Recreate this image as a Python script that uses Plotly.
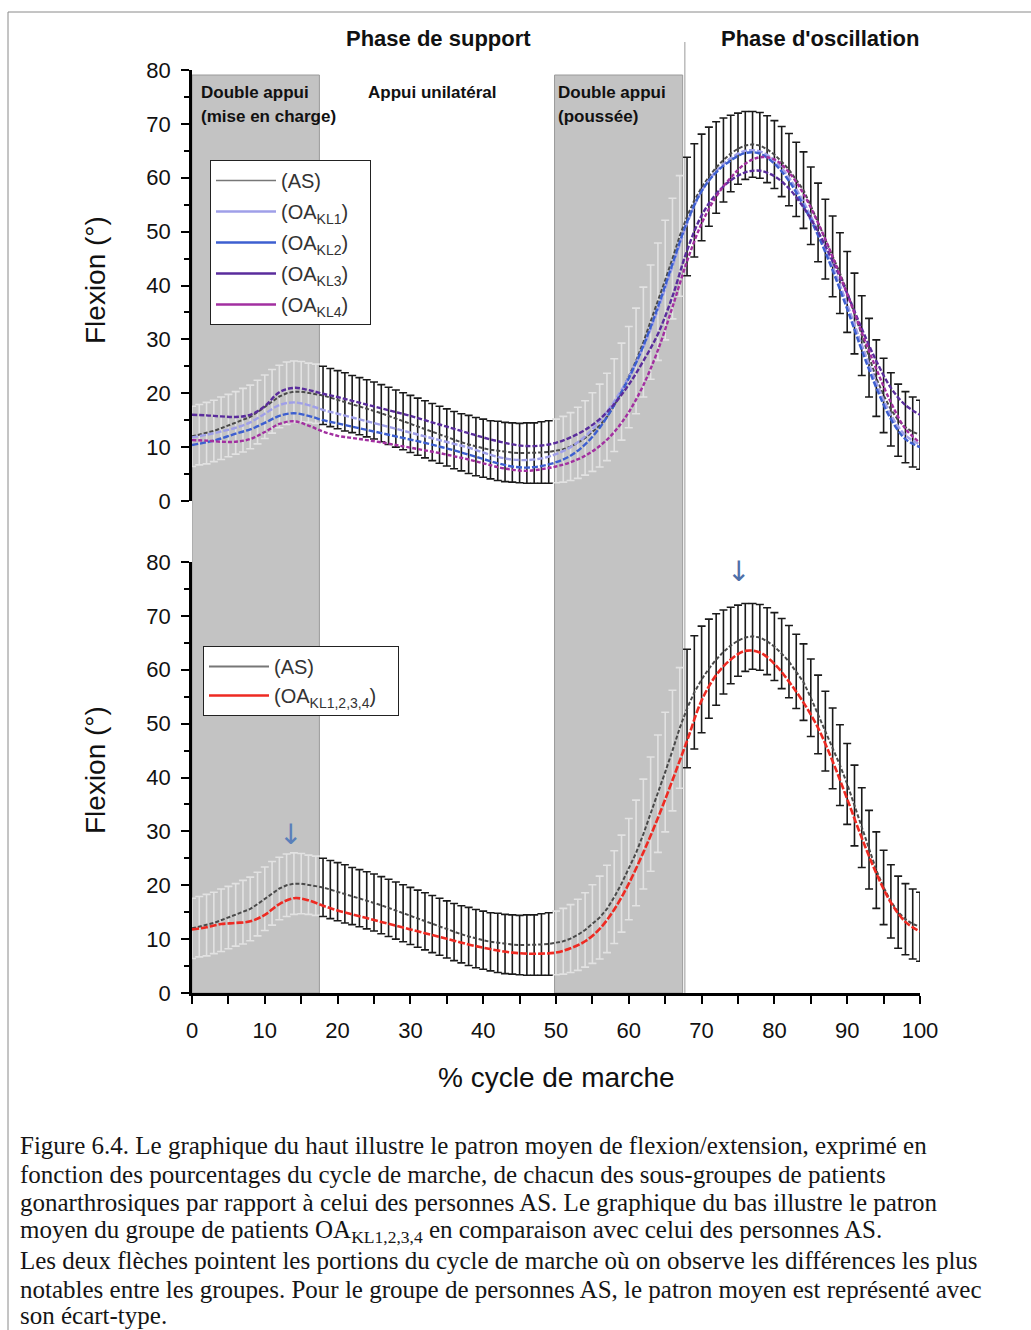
import plotly.graph_objects as go

W, H = 1031, 1330

# ---------------- data ----------------
x_as = list(range(0, 101))
as_mean = [12.0, 12.3, 12.6, 13.0, 13.5, 14.0, 14.5, 15.0, 15.6, 16.5,
           17.5, 18.5, 19.4, 20.0, 20.3, 20.3, 20.1, 19.9, 19.6, 19.2,
           18.8, 18.4, 18.0, 17.6, 17.2, 16.8, 16.3, 15.8, 15.3, 14.8,
           14.3, 13.8, 13.3, 12.8, 12.3, 11.8, 11.3, 10.9, 10.5, 10.1,
           9.8, 9.5, 9.3, 9.1, 9.0, 8.9, 8.9, 8.9, 9.0, 9.1,
           9.3, 9.6, 10.1, 10.8, 11.7, 12.8, 14.0, 15.6, 17.8, 20.3,
           23.0, 26.0, 29.5, 33.2, 37.0, 41.0, 45.0, 49.2, 52.8, 55.8,
           58.2, 60.2, 61.9, 63.3, 64.5, 65.4, 66.0, 66.2, 66.0, 65.3,
           64.3, 63.0, 61.5, 59.7, 57.7, 54.8, 51.7, 48.6, 45.4, 42.3,
           38.8, 34.8, 30.7, 26.6, 22.8, 19.6, 17.0, 15.0, 13.7, 12.8,
           12.3]
as_sd = [5.6, 5.6, 5.7, 5.7, 5.8, 5.8, 5.8, 5.9, 5.9, 5.9,
         5.9, 5.9, 5.8, 5.8, 5.7, 5.6, 5.5, 5.5, 5.4, 5.4,
         5.4, 5.4, 5.3, 5.3, 5.3, 5.3, 5.3, 5.3, 5.3, 5.3,
         5.3, 5.3, 5.3, 5.3, 5.3, 5.3, 5.3, 5.3, 5.4, 5.4,
         5.4, 5.4, 5.5, 5.5, 5.5, 5.5, 5.6, 5.6, 5.7, 5.8,
         5.9, 6.1, 6.3, 6.6, 6.9, 7.3, 7.7, 8.1, 8.6, 9.0,
         9.4, 9.8, 10.2, 10.6, 10.9, 11.1, 11.2, 11.2, 11.0, 10.5,
         9.9, 9.2, 8.5, 7.8, 7.1, 6.6, 6.3, 6.1, 6.1, 6.2,
         6.3, 6.5, 6.7, 6.9, 7.1, 7.2, 7.3, 7.4, 7.5, 7.5,
         7.5, 7.5, 7.4, 7.3, 7.1, 6.9, 6.8, 6.7, 6.6, 6.5,
         6.4]

x_oa = list(range(0, 101, 2))
oa_kl1 = [11.8, 12.3, 12.9, 13.6, 14.6, 16.2, 17.8, 18.3, 17.8, 16.9,
          16.2, 15.5, 14.8, 14.1, 13.4, 12.7, 12.0, 11.3, 10.6, 9.9,
          9.0, 8.2, 7.7, 7.6, 7.9, 8.7, 10.0, 12.0, 14.8, 18.5,
          23.0, 28.6, 35.5, 43.5, 51.5, 57.5, 61.2, 63.6, 65.0, 64.9,
          63.2, 60.0, 55.5, 50.0, 43.5, 36.5, 29.0, 22.0, 16.0, 12.2,
          10.5]
oa_kl2 = [10.4, 10.9, 11.6, 12.5, 13.3, 14.5, 15.8, 16.3, 15.8, 15.0,
          14.4, 13.8, 13.2, 12.6, 12.0, 11.4, 10.8, 10.1, 9.4, 8.6,
          7.8, 7.0, 6.4, 6.2, 6.5, 7.2, 8.4, 10.5, 13.6, 17.8,
          22.8, 28.8, 36.0, 44.0, 51.8, 57.5, 61.0, 63.2, 64.6, 64.5,
          62.6, 59.4, 54.8, 49.3, 42.8, 35.6, 28.0, 21.0, 15.2, 11.5,
          10.0]
oa_kl3 = [16.0, 15.9, 15.7, 15.6, 16.0, 17.6, 20.2, 21.0, 20.6, 19.9,
          19.3, 18.6, 17.9, 17.2, 16.5, 15.8, 15.0, 14.2, 13.4, 12.6,
          11.8, 11.1, 10.5, 10.2, 10.3, 10.8, 11.8, 13.2, 15.2, 18.0,
          21.6, 26.0, 31.0, 38.0, 46.5, 53.0, 57.0, 59.5, 61.0, 61.3,
          60.3, 58.0, 54.5, 50.0, 44.5, 38.5, 32.0, 26.0, 21.0, 17.8,
          16.0]
oa_kl4 = [11.3, 11.2, 11.0, 11.0, 11.5, 12.8, 14.3, 14.8, 14.0, 12.9,
          12.1, 11.7, 11.3, 10.9, 10.4, 9.9, 9.4, 8.9, 8.3, 7.7,
          7.0, 6.3, 5.8, 5.6, 5.9, 6.4, 7.2, 8.4, 10.2, 12.8,
          16.5, 21.5, 28.0, 36.0, 44.5, 51.5, 56.5, 60.0, 62.6, 63.8,
          63.4, 61.0, 57.0, 51.6, 45.3, 38.4, 31.3, 24.5, 18.3, 13.4,
          10.8]
oa_all = [11.8, 12.2, 12.8, 13.0, 13.3, 14.5, 16.5, 17.6, 17.2, 16.2,
          15.3, 14.6, 13.9, 13.2, 12.5, 11.8, 11.1, 10.4, 9.7, 9.0,
          8.4, 7.9, 7.5, 7.3, 7.3, 7.5, 8.3, 9.6, 11.9, 15.5,
          20.3, 26.1, 32.5, 39.5, 46.8, 54.3, 59.0, 61.9, 63.5, 63.2,
          61.1, 57.8, 53.9, 49.2, 43.0, 36.0, 28.8, 22.2, 16.8, 13.2,
          11.4]

# gait phases (% of cycle)
double_support = [(0.0, 17.5), (49.8, 67.4)]
swing_start = 67.7

y_ticks = [0, 10, 20, 30, 40, 50, 60, 70, 80]
x_ticks = [0, 10, 20, 30, 40, 50, 60, 70, 80, 90, 100]

top_names = ["(AS)", "(OA<sub>KL1</sub>)", "(OA<sub>KL2</sub>)",
             "(OA<sub>KL3</sub>)", "(OA<sub>KL4</sub>)"]
bottom_names = ["(AS)", "(OA<sub>KL1,2,3,4</sub>)"]

caption_lines = [
    "Figure 6.4. Le graphique du haut illustre le patron moyen de flexion/extension, exprimé en",
    "fonction des pourcentages du cycle de marche, de chacun des sous-groupes de patients",
    "gonarthrosiques par rapport à celui des personnes AS. Le graphique du bas illustre le patron",
    "moyen du groupe de patients OA<sub>KL1,2,3,4</sub> en comparaison avec celui des personnes AS.",
    "Les deux flèches pointent les portions du cycle de marche où on observe les différences les plus",
    "notables entre les groupes. Pour le groupe de personnes AS, le patron moyen est représenté avec",
    "son écart-type.",
]

# ---------------- styles ----------------
C_AS = "#4a4a4a"
C_KL1 = "#9f9fe8"
C_KL2 = "#3d5fd0"
C_KL3 = "#5a2c9c"
C_KL4 = "#a22fa0"
C_OA = "#ee2a22"
FONT = "Liberation Sans, Arial, sans-serif"


def px_x(p):
    return p / W


def px_y(p):
    return 1 - p / H


x_dom = [px_x(192), px_x(920)]
top_dom = [px_y(501), px_y(70)]
bot_dom = [px_y(993), px_y(562)]

fig = go.Figure()


def in_shade(v):
    return any(a <= v <= b for a, b in double_support)


def add_as(xa, ya):
    idx_light = [i for i, v in enumerate(x_as) if in_shade(v)]
    idx_dark = [i for i, v in enumerate(x_as) if not in_shade(v)]
    for idx, col in ((idx_light, "#e2e2e2"), (idx_dark, "#1a1a1a")):
        fig.add_trace(go.Scatter(
            x=[x_as[i] for i in idx], y=[as_mean[i] for i in idx],
            mode="markers", marker=dict(size=1, opacity=0),
            error_y=dict(type="data", array=[as_sd[i] for i in idx],
                         visible=True, color=col, thickness=1.6, width=4),
            xaxis=xa, yaxis=ya, showlegend=False, hoverinfo="skip"))
    fig.add_trace(go.Scatter(
        x=x_as, y=as_mean, mode="lines",
        line=dict(color=C_AS, width=2, dash="4px,2px"),
        xaxis=xa, yaxis=ya, showlegend=False))


add_as("x", "y")
for ys, col, dash in ((oa_kl1, C_KL1, "6px,2px"), (oa_kl2, C_KL2, "6px,2px"),
                      (oa_kl3, C_KL3, "5px,2px"), (oa_kl4, C_KL4, "4px,2px")):
    fig.add_trace(go.Scatter(
        x=x_oa, y=ys, mode="lines", line=dict(color=col, width=2.4, dash=dash, shape="spline"),
        xaxis="x", yaxis="y", showlegend=False))

add_as("x2", "y2")
fig.add_trace(go.Scatter(
    x=x_oa, y=oa_all, mode="lines", line=dict(color=C_OA, width=2.6, dash="7px,2px", shape="spline"),
    xaxis="x2", yaxis="y2", showlegend=False))

PAD = "\u00a0"
for k, (name, col, w) in enumerate(zip(top_names, ["#777777", C_KL1, C_KL2, C_KL3, C_KL4],
                                       [1.5, 2.5, 2.5, 2.5, 2.5])):
    fig.add_trace(go.Scatter(x=[None], y=[None], mode="lines", name=name + PAD * 3,
                             line=dict(color=col, width=w), xaxis="x", yaxis="y",
                             legend="legend", legendgroup="t%d" % k))
for k, (name, col, w) in enumerate(zip(bottom_names, ["#777777", C_OA], [2, 2.5])):
    fig.add_trace(go.Scatter(x=[None], y=[None], mode="lines", name=name + PAD * 3,
                             line=dict(color=col, width=w), xaxis="x2", yaxis="y2",
                             legend="legend2", legendgroup="b%d" % k))

shapes = []
for a, b in double_support:
    shapes.append(dict(type="rect", xref="x2", yref="paper", x0=a, x1=b,
                       y0=px_y(993), y1=px_y(75), fillcolor="#c3c3c3",
                       line=dict(color="#9a9a9a", width=1), layer="below"))
shapes.append(dict(type="line", xref="x2", yref="paper", x0=swing_start, x1=swing_start,
                   y0=px_y(993), y1=px_y(42), line=dict(color="#9a9a9a", width=1), layer="below"))
shapes.append(dict(type="line", xref="paper", yref="paper", x0=px_x(8), x1=px_x(8),
                   y0=0, y1=px_y(12), line=dict(color="#8a8a8a", width=1)))
shapes.append(dict(type="line", xref="paper", yref="paper", x0=px_x(8), x1=1,
                   y0=px_y(12), y1=px_y(12), line=dict(color="#8a8a8a", width=1)))

ann = []


def txt(text, xp, yp, size, bold=False, xanchor="left", font=FONT, color="#111111", angle=0):
    ann.append(dict(text=text, x=px_x(xp), y=px_y(yp), xref="paper", yref="paper",
                    showarrow=False, xanchor=xanchor, yanchor="middle", textangle=angle,
                    font=dict(family=font, size=size, color=color,
                              weight="bold" if bold else "normal")))


txt("Phase de support", 438, 38, 22, True, "center")
txt("Phase d'oscillation", 820, 38, 22, True, "center")
txt("Double appui", 199, 93, 17, True)
txt("(mise en charge)", 199, 117, 17, True)
txt("Appui unilatéral", 366, 92, 17, True)
txt("Double appui", 556, 93, 17, True)
txt("(poussée)", 556, 117, 17, True)
txt("Flexion (°)", 95, 280, 28, False, "center", angle=-90)
txt("Flexion (°)", 95, 770, 28, False, "center", angle=-90)
txt("% cycle de marche", 556, 1077, 28, False, "center")

ann.append(dict(text="↓", x=13.5, y=29.5, xref="x2", yref="y2", showarrow=False,
                font=dict(family="DejaVu Sans", size=28, color="#5a7fba")))
ann.append(dict(text="↓", x=75.0, y=78.3, xref="x2", yref="y2", showarrow=False,
                font=dict(family="DejaVu Sans", size=28, color="#4f6fa8")))

cap_y = [1145, 1174, 1202, 1231, 1260, 1289, 1315]
for line, yy in zip(caption_lines, cap_y):
    txt(line, 18, yy, 25, False, "left", font="Liberation Serif, Times New Roman, serif", color="#151515")

yaxis_common = dict(range=[0, 80], tickvals=y_ticks, showline=True, linecolor="black", linewidth=2.5,
                    ticks="outside", ticklen=8, tickwidth=2, tickcolor="black",
                    minor=dict(dtick=5, ticks="outside", ticklen=5, tickwidth=1.5, tickcolor="black"),
                    tickfont=dict(family=FONT, size=22, color="#111111"), showgrid=False,
                    zeroline=False, ticklabelstandoff=6, fixedrange=True, automargin=False)

fig.update_layout(
    width=W, height=H, margin=dict(l=0, r=0, t=0, b=0, pad=0, autoexpand=False),
    paper_bgcolor="white", plot_bgcolor="rgba(0,0,0,0)",
    xaxis=dict(domain=x_dom, range=[0, 100], anchor="y", visible=False, automargin=False),
    yaxis=dict(domain=top_dom, anchor="x", **yaxis_common),
    xaxis2=dict(domain=x_dom, range=[0, 100], anchor="y2", tickvals=x_ticks,
                showline=True, linecolor="black", linewidth=2.5, ticks="outside",
                ticklen=8, tickwidth=2, tickcolor="black",
                minor=dict(dtick=5, ticks="outside", ticklen=8, tickwidth=1.5, tickcolor="black"),
                tickfont=dict(family=FONT, size=22, color="#111111"), showgrid=False,
                zeroline=False, ticklabelstandoff=8, automargin=False),
    yaxis2=dict(domain=bot_dom, anchor="x2", **yaxis_common),
    shapes=shapes, annotations=ann,
    legend=dict(x=px_x(210), y=px_y(160), xanchor="left", yanchor="top", itemwidth=60,
                bgcolor="white", bordercolor="#222222", borderwidth=1,
                font=dict(family=FONT, size=20, color="#333333"), tracegroupgap=2),
    legend2=dict(x=px_x(203), y=px_y(646), xanchor="left", yanchor="top", itemwidth=60,
                 bgcolor="white", bordercolor="#222222", borderwidth=1,
                 font=dict(family=FONT, size=20, color="#333333"), tracegroupgap=0),
    showlegend=True,
)

fig.write_html(
    "out.html",
    post_script="document.body.style.margin='0px';",
    config={"displayModeBar": False},
)
